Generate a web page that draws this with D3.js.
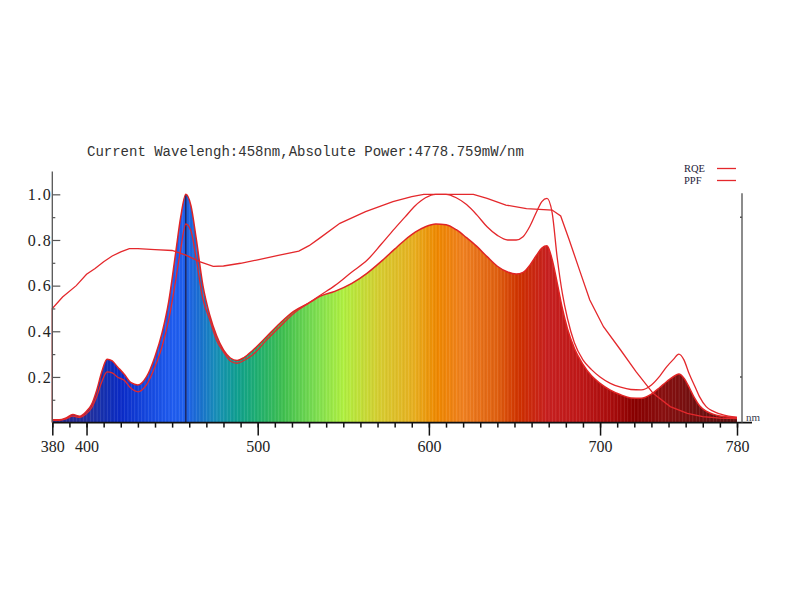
<!DOCTYPE html>
<html>
<head>
<meta charset="utf-8">
<script src="https://d3js.org/d3.v7.min.js"></script>
<style>
  body { margin: 0; background: #fff; }
</style>
</head>
<body>
<svg id="chart" width="800" height="600"></svg>
<script>
// spectrum (relative power)
const specWl = [380, 384, 388, 392, 396, 400, 403, 406, 409, 412, 415, 418, 422, 426, 430, 435, 440, 444, 448, 452, 455, 458, 461, 464, 468, 472, 476, 480, 484, 488, 492, 497, 505, 513, 521, 529, 537, 545, 555, 564, 572, 580, 586, 592, 598, 604, 610, 616, 622, 628, 634, 640, 646, 651, 655, 659, 663, 666, 669, 672, 675, 678, 681, 685, 690, 695, 700, 706, 712, 718, 724, 730, 735, 739, 743, 746, 749, 752, 755, 758, 762, 766, 770, 775, 780];
const specVal = [0.012, 0.012, 0.02, 0.035, 0.028, 0.05, 0.08, 0.143, 0.225, 0.278, 0.27, 0.245, 0.212, 0.175, 0.165, 0.2, 0.29, 0.39, 0.53, 0.74, 0.9, 1.0, 0.95, 0.81, 0.6, 0.47, 0.38, 0.318, 0.283, 0.272, 0.285, 0.316, 0.375, 0.435, 0.487, 0.52, 0.555, 0.575, 0.61, 0.655, 0.705, 0.76, 0.8, 0.834, 0.858, 0.87, 0.867, 0.845, 0.81, 0.772, 0.727, 0.685, 0.66, 0.651, 0.658, 0.69, 0.735, 0.765, 0.775, 0.715, 0.61, 0.5, 0.41, 0.325, 0.255, 0.205, 0.172, 0.142, 0.122, 0.108, 0.107, 0.125, 0.155, 0.18, 0.202, 0.213, 0.195, 0.155, 0.11, 0.075, 0.05, 0.037, 0.029, 0.024, 0.022];
// PPF curve, same wavelengths
const ppfVal = [0.01, 0.01, 0.016, 0.028, 0.023, 0.04, 0.065, 0.115, 0.18, 0.222, 0.218, 0.2, 0.185, 0.15, 0.135, 0.165, 0.245, 0.33, 0.45, 0.62, 0.76, 0.87, 0.84, 0.72, 0.54, 0.45, 0.36, 0.31, 0.27, 0.26, 0.272, 0.296, 0.36, 0.42, 0.478, 0.52, 0.56, 0.6, 0.66, 0.712, 0.78, 0.85, 0.9, 0.95, 0.985, 1.0, 1.0, 0.985, 0.955, 0.91, 0.858, 0.82, 0.8, 0.8, 0.814, 0.86, 0.925, 0.968, 0.982, 0.92, 0.72, 0.565, 0.455, 0.35, 0.275, 0.232, 0.2, 0.172, 0.155, 0.145, 0.143, 0.165, 0.205, 0.245, 0.278, 0.3, 0.275, 0.215, 0.165, 0.115, 0.07, 0.05, 0.038, 0.028, 0.023];
// RQE curve
const rqeWl = [380, 380, 386, 394, 400, 405, 410, 415, 420, 425, 430, 440, 450, 458, 466, 474, 480, 490, 500, 512, 524, 530, 536, 548, 563, 579, 590, 597, 610, 626, 634, 645, 657, 672, 677, 682, 688, 694, 702, 712, 721, 731, 741, 751, 760, 770, 780];
const rqeVal = [0, 0.50, 0.55, 0.60, 0.65, 0.675, 0.705, 0.73, 0.748, 0.762, 0.762, 0.758, 0.754, 0.734, 0.705, 0.684, 0.686, 0.698, 0.713, 0.733, 0.751, 0.775, 0.807, 0.873, 0.924, 0.968, 0.99, 1.0, 1.0, 1.0, 0.982, 0.953, 0.937, 0.931, 0.905, 0.80, 0.668, 0.537, 0.42, 0.318, 0.223, 0.128, 0.07, 0.04, 0.026, 0.02, 0.018];

const xMajor = [380, 400, 500, 600, 700, 780];
const yMajor = [0.2, 0.4, 0.6, 0.8, 1.0];
const yMinor = [0.1, 0.3, 0.5, 0.7, 0.9];
const legendNames = ["RQE", "PPF"];
const currentWl = 458;
const titleText = "Current Wavelengh:458nm,Absolute Power:4778.759mW/nm";

// colours of the visible spectrum
const colorWl = [380, 400, 410, 420, 435, 450, 457, 466, 476, 488, 500, 515, 535, 550, 572, 591, 605, 620, 640, 653, 669, 688, 708, 720, 737, 756, 780];
const colorHex = ["#2a2a8a", "#24309c", "#1530b0", "#0b2bc8", "#1548e0", "#1f5cf0", "#2060ee", "#1a70d0", "#1890b8", "#10a090", "#20b070", "#40c050", "#80e050", "#b0f040", "#d8cc30", "#e8b020", "#f08800", "#f08020", "#e06010", "#d03000", "#c82020", "#c01818", "#a80c0c", "#8a0000", "#8a1010", "#701010", "#601010"];

let svg = d3.select("svg#chart");

let x = d3.scaleLinear().domain([380, 780]).range([52.3, 737]);
let y = d3.scaleLinear().domain([0, 1.1]).range([422.6, 171.5]);

let spec = specWl.map((w, i) => ({w: w, v: specVal[i]}));
let ppf = specWl.map((w, i) => ({w: w, v: ppfVal[i]}));
let rqe = rqeWl.map((w, i) => ({w: w, v: rqeVal[i]}));

// gradient for the spectrum fill
let defs = svg.append("defs");
let grad = defs.append("linearGradient")
    .attr("id", "specGrad")
    .attr("gradientUnits", "userSpaceOnUse")
    .attr("x1", x(380)).attr("x2", x(780))
    .attr("y1", 0).attr("y2", 0);
colorWl.forEach((w, i) => {
  grad.append("stop")
      .attr("offset", (w - 380) / 400)
      .attr("stop-color", colorHex[i]);
});

let area = d3.area()
    .x(d => x(d.w))
    .y0(y(0))
    .y1(d => y(d.v))
    .curve(d3.curveMonotoneX);

let line = d3.line()
    .x(d => x(d.w))
    .y(d => y(d.v))
    .curve(d3.curveMonotoneX);

defs.append("clipPath").attr("id", "specClip")
  .append("path").attr("d", area(spec));

svg.append("path")
    .attr("d", area(spec))
    .style("fill", "url(#specGrad)");

// thin stripes like the per-nm bars
let stripes = svg.append("g").attr("clip-path", "url(#specClip)");
d3.range(380, 781, 1).forEach(w => {
  stripes.append("rect")
      .attr("x", x(w))
      .attr("y", y(1.1))
      .attr("width", 0.6)
      .attr("height", y(0) - y(1.1))
      .style("fill", w % 2 == 0 ? "#ffffff" : "#000000")
      .style("opacity", w % 2 == 0 ? 0.16 : 0.06);
});

// current wavelength marker
let curVal = specVal[specWl.indexOf(currentWl)];
svg.append("line")
    .attr("x1", x(currentWl)).attr("x2", x(currentWl))
    .attr("y1", y(0)).attr("y2", y(curVal))
    .style("stroke", "#1a2560")
    .style("stroke-width", 1.5);

// outline of the spectrum
svg.append("path")
    .attr("d", line(spec))
    .style("fill", "none")
    .style("stroke", "#e02424")
    .style("stroke-width", 1.5);

// PPF
svg.append("path")
    .attr("d", line(ppf))
    .style("fill", "none")
    .style("stroke", "#e4282c")
    .style("stroke-width", 1.3);

// RQE
svg.append("path")
    .attr("d", d3.line().x(d => x(d.w)).y(d => y(d.v))(rqe))
    .style("fill", "none")
    .style("stroke", "#e4282c")
    .style("stroke-width", 1.3);

// x axis
let xMinorAxis = d3.axisBottom(x)
    .tickValues(d3.range(380, 781, 10))
    .tickSize(5)
    .tickSizeOuter(0)
    .tickFormat("");
let gxm = svg.append("g").attr("transform", `translate(0,${y(0)})`).call(xMinorAxis);
gxm.select(".domain").remove();
gxm.selectAll("line").style("stroke", "#111").style("stroke-width", 1.5);

let xAxis = d3.axisBottom(x)
    .tickValues(xMajor)
    .tickSize(13)
    .tickSizeOuter(0)
    .tickPadding(5)
    .tickFormat(d3.format("d"));
let gx = svg.append("g").attr("transform", `translate(0,${y(0)})`).call(xAxis);
gx.select(".domain").remove();
gx.selectAll("line").style("stroke", "#111").style("stroke-width", 1.5);
gx.selectAll("text")
    .style("font-family", "'Liberation Serif', serif")
    .style("font-size", "16px")
    .style("fill", "#222");

svg.append("line")
    .attr("x1", x(380)).attr("x2", 752)
    .attr("y1", y(0)).attr("y2", y(0))
    .style("stroke", "#111")
    .style("stroke-width", 1.6);

// y axis
let yMinorAxis = d3.axisLeft(y).tickValues(yMinor).tickSize(-3).tickFormat("");
let gym = svg.append("g").attr("transform", `translate(${x(380)},0)`).call(yMinorAxis);
gym.select(".domain").remove();
gym.selectAll("line").style("stroke", "#555").style("stroke-width", 1.2);

let yAxis = d3.axisLeft(y)
    .tickValues(yMajor)
    .tickSize(-8)
    .tickSizeOuter(0)
    .tickPadding(0)
    .tickFormat(d3.format(".1f"));
let gy = svg.append("g").attr("transform", `translate(${x(380)},0)`).call(yAxis);
gy.select(".domain").remove();
gy.selectAll("line").style("stroke", "#555").style("stroke-width", 1.2);
gy.selectAll("text")
    .style("font-family", "'Liberation Serif', serif")
    .style("font-size", "16px")
    .style("letter-spacing", "1.5px")
    .style("fill", "#222");

svg.append("line")
    .attr("x1", x(380)).attr("x2", x(380))
    .attr("y1", y(1.1)).attr("y2", y(0))
    .style("stroke", "#555")
    .style("stroke-width", 1.3);

// right-hand axis
svg.append("line")
    .attr("x1", 742).attr("x2", 742)
    .attr("y1", y(1.005)).attr("y2", y(0))
    .style("stroke", "#666")
    .style("stroke-width", 1.5);
[0.9, 0.2].forEach(v => {
  svg.append("line")
      .attr("x1", 740).attr("x2", 742)
      .attr("y1", y(v)).attr("y2", y(v))
      .style("stroke", "#555")
      .style("stroke-width", 1.5);
});
svg.append("text")
    .text("nm")
    .attr("x", 746)
    .attr("y", 420.5)
    .style("font-family", "'Liberation Serif', serif")
    .style("font-size", "11px")
    .style("fill", "#3a4050");

// title
svg.append("text")
    .text(titleText)
    .attr("x", 87)
    .attr("y", 156)
    .style("font-family", "'Liberation Mono', monospace")
    .style("font-size", "14px")
    .style("fill", "#333");

// legend
legendNames.forEach((name, i) => {
  svg.append("text")
      .text(name)
      .attr("x", 684)
      .attr("y", 172 + i * 12)
      .style("font-family", "'Liberation Serif', serif")
      .style("font-size", "10.5px")
      .style("fill", "#1c2038");
  svg.append("line")
      .attr("x1", 717).attr("x2", 736)
      .attr("y1", 168.5 + i * 12).attr("y2", 168.5 + i * 12)
      .style("stroke", "#e4282c")
      .style("stroke-width", 1.3);
});
</script>
</body>
</html>
